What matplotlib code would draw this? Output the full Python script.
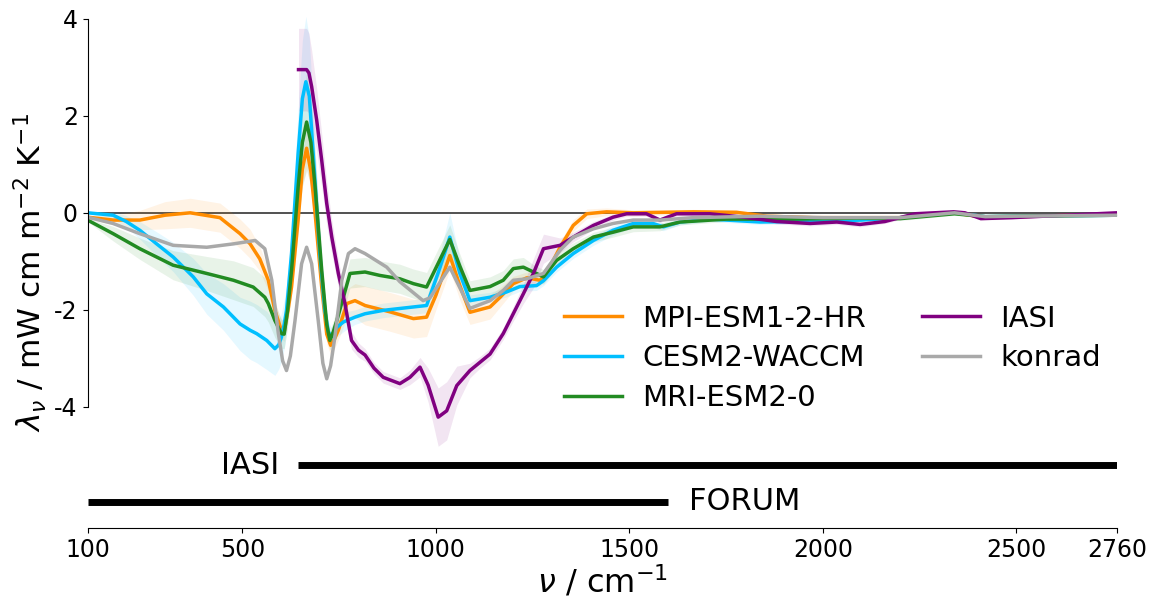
import matplotlib
matplotlib.use("Agg")
import matplotlib.pyplot as plt

plt.rcParams["axes.unicode_minus"] = False

# MPI-ESM1-2-HR
nu_mpi = [100, 166, 235, 300, 365, 442, 494, 520, 545, 567, 584, 599, 608, 618, 627, 644, 655, 666, 677, 688,
          705, 718, 728, 738, 748, 770, 791, 817, 881, 942, 976, 1000, 1036, 1062, 1088, 1140, 1166, 1200, 1235, 1269,
          1286, 1321, 1355, 1390, 1441, 1510, 1665, 1777, 1855, 1975, 2100, 2200, 2340, 2420, 2500, 2760]
val_mpi = [-0.09, -0.15, -0.15, -0.05, 0.0, -0.1, -0.43, -0.64, -0.95, -1.39, -2.01, -2.38, -2.45, -2.0, -1.53, -0.15, 0.9, 1.33, 0.85, -0.02,
           -1.53, -2.5, -2.73, -2.6, -2.42, -1.87, -1.81, -1.91, -2.04, -2.18, -2.15, -1.7, -0.88, -1.5, -2.05, -1.94, -1.74, -1.46, -1.34, -1.39,
           -1.25, -0.71, -0.26, -0.02, 0.02, 0.0, 0.02, 0.01, -0.07, -0.1, -0.1, -0.1, 0.0, -0.1, -0.08, -0.03]
spr_mpi = [0.03, 0.1, 0.2, 0.28, 0.3, 0.3, 0.3, 0.3, 0.25, 0.22, 0.2, 0.2, 0.2, 0.2, 0.2, 0.25, 0.35, 0.4, 0.35, 0.3,
           0.25, 0.2, 0.2, 0.2, 0.2, 0.3, 0.35, 0.4, 0.4, 0.4, 0.4, 0.3, 0.3, 0.3, 0.25, 0.25, 0.2, 0.15, 0.12, 0.12,
           0.12, 0.12, 0.12, 0.1, 0.08, 0.06, 0.05, 0.05, 0.05, 0.05, 0.04, 0.04, 0.03, 0.03, 0.03, 0.02]

# CESM2-WACCM
nu_cesm = [100, 166, 200, 235, 280, 321, 373, 408, 451, 494, 520, 537, 563, 584, 594, 601, 608, 614, 627, 644,
           655, 664, 673, 683, 700, 713, 722, 730, 744, 761, 791, 817, 864, 942, 976, 1011, 1036, 1062, 1088, 1140,
           1183, 1217, 1260, 1278, 1312, 1355, 1407, 1458, 1510, 1561, 1588, 1631, 1708, 1838, 2010, 2100, 2200, 2340, 2420, 2500,
           2760]
val_cesm = [0.0, -0.05, -0.18, -0.36, -0.65, -0.91, -1.32, -1.67, -1.94, -2.29, -2.42, -2.49, -2.63, -2.80, -2.72, -2.56, -2.3, -2.01, -0.84, 1.22,
            2.35, 2.70, 2.4, 1.22, -0.84, -2.01, -2.45, -2.56, -2.36, -2.25, -2.15, -2.08, -2.01, -1.94, -1.91, -1.12, -0.50, -1.25, -1.81, -1.74,
            -1.63, -1.52, -1.50, -1.40, -1.12, -0.84, -0.57, -0.36, -0.22, -0.22, -0.29, -0.19, -0.13, -0.19, -0.17, -0.15, -0.1, 0.0, -0.08, -0.07,
            -0.05]
spr_cesm = [0.02, 0.08, 0.12, 0.18, 0.25, 0.3, 0.38, 0.42, 0.48, 0.55, 0.6, 0.6, 0.6, 0.55, 0.5, 0.5, 0.5, 0.5, 0.5, 0.9,
            1.2, 1.35, 1.2, 0.9, 0.4, 0.3, 0.2, 0.2, 0.2, 0.2, 0.15, 0.15, 0.15, 0.15, 0.15, 0.3, 0.5, 0.3, 0.12, 0.1,
            0.1, 0.1, 0.1, 0.1, 0.1, 0.1, 0.1, 0.1, 0.08, 0.08, 0.08, 0.06, 0.05, 0.05, 0.04, 0.04, 0.03, 0.03, 0.03, 0.02,
            0.02]

# MRI-ESM2-0
nu_mri = [100, 166, 235, 321, 408, 477, 528, 558, 567, 584, 601, 608, 617, 627, 644, 655, 666, 677, 688, 705,
          718, 726, 735, 744, 761, 778, 817, 855, 907, 942, 976, 1036, 1062, 1088, 1140, 1174, 1200, 1226, 1252, 1278,
          1312, 1355, 1407, 1458, 1510, 1579, 1631, 1751, 1923, 2087, 2200, 2340, 2420, 2500, 2760]
val_mri = [-0.15, -0.43, -0.74, -1.08, -1.25, -1.39, -1.53, -1.74, -1.87, -2.22, -2.49, -2.5, -2.0, -1.19, 0.53, 1.45, 1.87, 1.45, 0.53, -1.19,
           -2.3, -2.63, -2.45, -2.22, -1.74, -1.25, -1.22, -1.29, -1.36, -1.46, -1.53, -0.55, -1.1, -1.60, -1.52, -1.39, -1.15, -1.12, -1.22, -1.32,
           -0.98, -0.74, -0.50, -0.40, -0.29, -0.29, -0.19, -0.13, -0.13, -0.11, -0.12, -0.02, -0.08, -0.07, -0.05]
spr_mri = [0.03, 0.15, 0.22, 0.3, 0.35, 0.4, 0.4, 0.4, 0.38, 0.35, 0.3, 0.3, 0.35, 0.4, 0.7, 0.9, 1.0, 0.9, 0.7, 0.4,
           0.25, 0.2, 0.22, 0.25, 0.3, 0.3, 0.3, 0.3, 0.3, 0.3, 0.3, 0.3, 0.25, 0.2, 0.2, 0.2, 0.2, 0.2, 0.15, 0.15,
           0.15, 0.12, 0.1, 0.1, 0.1, 0.08, 0.06, 0.05, 0.05, 0.04, 0.04, 0.03, 0.03, 0.03, 0.02]

# IASI observations
nu_iasi = [645, 666, 672, 679, 692, 705, 718, 731, 748, 765, 782, 800, 817, 840, 864, 907, 933, 959, 980, 1006,
           1028, 1054, 1088, 1114, 1140, 1174, 1200, 1226, 1252, 1278, 1321, 1355, 1407, 1458, 1493, 1544, 1579, 1622, 1708, 1794,
           1881, 1967, 2036, 2096, 2160, 2238, 2338, 2367, 2408, 2487, 2600, 2760]
val_iasi = [2.95, 2.95, 2.88, 2.60, 1.91, 1.08, 0.19, -0.50, -1.25, -1.87, -2.63, -2.83, -2.93, -3.2, -3.39, -3.52, -3.39, -3.18, -3.55, -4.21,
            -4.08, -3.56, -3.25, -3.08, -2.91, -2.49, -2.08, -1.67, -1.25, -0.74, -0.67, -0.50, -0.26, -0.09, -0.02, -0.02, -0.15, -0.02, -0.02, -0.09,
            -0.18, -0.22, -0.19, -0.24, -0.18, -0.02, 0.02, 0.0, -0.12, -0.10, -0.06, 0.0]
spr_iasi = [0.85, 0.85, 0.82, 0.75, 0.65, 0.55, 0.45, 0.35, 0.28, 0.22, 0.18, 0.15, 0.13, 0.12, 0.12, 0.12, 0.15, 0.2, 0.35, 0.6,
            0.6, 0.4, 0.15, 0.12, 0.12, 0.12, 0.15, 0.2, 0.3, 0.3, 0.15, 0.1, 0.08, 0.06, 0.05, 0.05, 0.05, 0.05, 0.05, 0.05,
            0.05, 0.05, 0.05, 0.05, 0.04, 0.04, 0.03, 0.03, 0.03, 0.03, 0.02, 0.02]

# konrad
nu_konrad = [100, 166, 235, 321, 408, 477, 533, 558, 576, 593, 604, 614, 624, 636, 653, 666, 679, 696, 708, 718,
             728, 739, 757, 774, 791, 817, 873, 907, 967, 985, 1036, 1088, 1140, 1174, 1200, 1235, 1278, 1321, 1355, 1407,
             1458, 1510, 1579, 1665, 1838, 2000, 2200, 2340, 2420, 2500, 2760]
val_konrad = [-0.09, -0.22, -0.43, -0.67, -0.71, -0.64, -0.57, -0.74, -1.39, -2.49, -3.05, -3.25, -2.95, -2.22, -1.05, -0.71, -1.05, -2.22, -3.1, -3.42,
              -3.15, -2.56, -1.39, -0.84, -0.74, -0.84, -1.12, -1.42, -1.81, -1.75, -1.12, -1.97, -1.81, -1.60, -1.39, -1.36, -1.25, -0.77, -0.50, -0.33,
              -0.22, -0.15, -0.15, -0.10, -0.07, -0.1, -0.1, 0.0, -0.08, -0.07, -0.05]

# spectral ranges of the instruments
instruments = ["IASI", "FORUM"]
inst_start = [645, 100]
inst_end = [2760, 1600]
inst_y = [-5.2, -5.95]

xticks = [100, 500, 1000, 1500, 2000, 2500, 2760]
yticks = [-4, -2, 0, 2, 4]

fig = plt.figure(figsize=(11.57, 6.01), dpi=100)
ax = fig.add_axes([0.0757, 0.121, 0.8897, 0.852])

ax.axhline(0, color="#333333", lw=1.2, zorder=1)

models = [
    ("MPI-ESM1-2-HR", nu_mpi, val_mpi, spr_mpi, "darkorange"),
    ("CESM2-WACCM", nu_cesm, val_cesm, spr_cesm, "deepskyblue"),
    ("MRI-ESM2-0", nu_mri, val_mri, spr_mri, "forestgreen"),
    ("IASI", nu_iasi, val_iasi, spr_iasi, "purple"),
]
for name, nu, val, spr, c in models:
    lo = [v - s for v, s in zip(val, spr)]
    hi = [v + s for v, s in zip(val, spr)]
    ax.fill_between(nu, lo, hi, color=c, alpha=0.1, lw=0)
for name, nu, val, spr, c in models:
    ax.plot(nu, val, color=c, lw=2.5, label=name)
ax.plot(nu_konrad, val_konrad, color="darkgray", lw=2.5, label="konrad")

for name, x0, x1, y in zip(instruments, inst_start, inst_end, inst_y):
    ax.hlines(y, x0, x1, color="black", lw=5)
    if name == "IASI":
        ax.text(x0 - 50, y, name, ha="right", va="center", fontsize=22)
    else:
        ax.text(x1 + 55, y, name, ha="left", va="center", fontsize=22)

ax.set_xlim(100, 2760)
ax.set_ylim(-6.5, 4.05)
ax.set_xticks(xticks)
ax.set_yticks(yticks)
ax.tick_params(labelsize=17)
ax.spines["top"].set_visible(False)
ax.spines["right"].set_visible(False)
ax.spines["left"].set_bounds(-4, 4)
ax.spines["bottom"].set_bounds(100, 2760)
ax.set_xlabel(r"$\nu$ / cm$^{-1}$", fontsize=23, labelpad=1)
ax.set_ylabel(r"$\lambda_\nu$ / mW cm m$^{-2}$ K$^{-1}$", fontsize=22.5)

ax.legend(ncol=2, frameon=False, fontsize=21, loc="lower right",
          bbox_to_anchor=(1.010, 0.176), handlelength=2.0, handletextpad=0.7,
          columnspacing=1.9, labelspacing=0.4)

fig.savefig("out.png", dpi=100)
